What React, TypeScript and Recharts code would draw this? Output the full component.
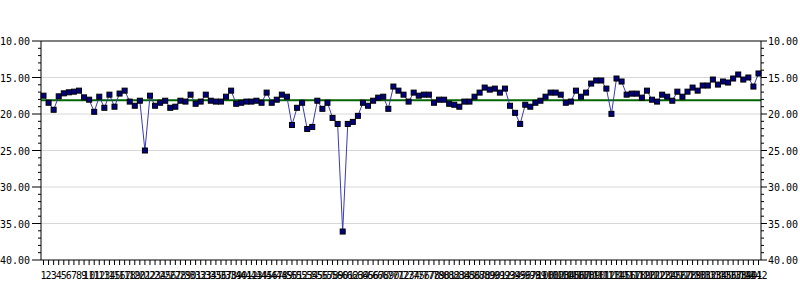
import React from 'react'
import { LineChart, Line, XAxis, YAxis, ReferenceLine } from 'recharts'

// categories 1..142
const categories = [
  '1', '2', '3', '4', '5', '6', '7', '8', '9', '10', '11', '12', '13', '14', '15', '16', '17', '18', '19', '20',
  '21', '22', '23', '24', '25', '26', '27', '28', '29', '30', '31', '32', '33', '34', '35', '36', '37', '38', '39', '40',
  '41', '42', '43', '44', '45', '46', '47', '48', '49', '50', '51', '52', '53', '54', '55', '56', '57', '58', '59', '60',
  '61', '62', '63', '64', '65', '66', '67', '68', '69', '70', '71', '72', '73', '74', '75', '76', '77', '78', '79', '80',
  '81', '82', '83', '84', '85', '86', '87', '88', '89', '90', '91', '92', '93', '94', '95', '96', '97', '98', '99', '100',
  '101', '102', '103', '104', '105', '106', '107', '108', '109', '110', '111', '112', '113', '114', '115', '116', '117', '118', '119', '120',
  '121', '122', '123', '124', '125', '126', '127', '128', '129', '130', '131', '132', '133', '134', '135', '136', '137', '138', '139', '140',
  '141', '142',
]

const values = [
  17.49, 18.46, 19.42, 17.58, 17.17, 17.03, 16.94, 16.8, 17.72, 18.04,
  19.7, 17.63, 19.15, 17.35, 19.0, 17.2, 16.8, 18.3, 18.87, 18.18,
  25.0, 17.49, 18.87, 18.46, 18.18, 19.15, 19.0, 18.18, 18.3, 17.35,
  18.6, 18.3, 17.35, 18.18, 18.3, 18.3, 17.63, 16.8, 18.6, 18.46,
  18.3, 18.3, 18.18, 18.46, 17.07, 18.46, 18.04, 17.35, 17.63, 21.5,
  19.15, 18.46, 22.05, 21.77, 18.18, 19.29, 18.46, 20.53, 21.36, 36.1,
  21.36, 21.08, 20.25, 18.46, 18.87, 18.18, 17.76, 17.63, 19.29, 16.24,
  16.8, 17.35, 18.3, 17.07, 17.49, 17.35, 17.35, 18.46, 18.04, 18.04,
  18.6, 18.73, 19.0, 18.3, 18.3, 17.63, 17.07, 16.38, 16.66, 16.52,
  17.07, 16.52, 18.87, 19.84, 21.36, 18.73, 19.0, 18.46, 18.18, 17.63,
  17.07, 17.07, 17.35, 18.46, 18.3, 16.8, 17.63, 17.07, 15.83, 15.41,
  15.41, 16.52, 19.98, 15.14, 15.55, 17.35, 17.21, 17.21, 17.76, 16.8,
  18.04, 18.3, 17.35, 17.63, 18.18, 16.94, 17.63, 16.94, 16.38, 16.8,
  16.1, 16.1, 15.28, 15.97, 15.55, 15.69, 15.14, 14.59, 15.28, 15.0,
  16.24, 14.45,
]

const average = 18.1

const yTicks = [
  10, 11, 12, 13, 14, 15, 16, 17, 18, 19, 20, 21, 22, 23, 24, 25,
  26, 27, 28, 29, 30, 31, 32, 33, 34, 35, 36, 37, 38, 39, 40,
]
const yMajor = [10, 15, 20, 25, 30, 35, 40]
const gridValues = [15, 20, 25, 30, 35]

const data = categories.map((name, i) => ({ name, value: values[i] }))

const font = 'DejaVu Sans Mono'
const plotWidth = 720 // distance from left axis to right axis

// draws the tick on the left axis and its twin on the right axis
function SideTicks(props: any) {
  const { x, y, payload } = props
  const v = Number(payload.value)
  const major = yMajor.includes(v)
  const rx = x + plotWidth
  return (
    <g>
      <line x1={x - (major ? 9 : 3)} x2={x} y1={y} y2={y} stroke="#000" />
      <line x1={rx} x2={rx + (major ? 6 : 3)} y1={y} y2={y} stroke="#000" />
      {major && (
        <text x={x - 11} y={y + 4} textAnchor="end" fontSize={10} fontFamily={font} fill="#000">
          {v.toFixed(2)}
        </text>
      )}
      {major && (
        <text x={rx + 7} y={y + 4} textAnchor="start" fontSize={10} fontFamily={font} fill="#000">
          {v.toFixed(2)}
        </text>
      )}
    </g>
  )
}

function BottomTick(props: any) {
  const { x, y, payload } = props
  return (
    <g>
      <line x1={x} x2={x} y1={y} y2={y + 5} stroke="#000" />
      <text x={x} y={y + 19} textAnchor="middle" fontSize={10} fontFamily={font} fill="#000">
        {payload.value}
      </text>
    </g>
  )
}

function SquareDot(props: any) {
  const { cx, cy, index } = props
  if (cx == null || cy == null) return <g key={index} />
  return <rect key={index} x={cx - 2.5} y={cy - 2.5} width={5} height={5} fill="#000080" stroke="#000" strokeWidth={1} />
}

export default function App() {
  return (
    <div style={{ position: 'absolute', left: 0, top: 0, width: 800, height: 300, background: '#fff' }}>
      <LineChart width={800} height={300} data={data} margin={{ top: 41, right: 0, left: 0, bottom: 0 }}>
        <XAxis
          dataKey="name"
          interval={0}
          height={40}
          padding={{ left: 2.5, right: 2.5 }}
          tickSize={0}
          tickMargin={0}
          tickLine={false}
          axisLine={{ stroke: '#000' }}
          tick={<BottomTick />}
        />
        <YAxis
          yAxisId="left"
          domain={[10, 40]}
          reversed
          ticks={yTicks}
          interval={0}
          width={41}
          tickSize={0}
          tickMargin={0}
          tickLine={false}
          axisLine={{ stroke: '#000' }}
          tick={<SideTicks />}
        />
        <YAxis
          yAxisId="right"
          orientation="right"
          domain={[10, 40]}
          reversed
          width={39}
          tick={false}
          tickLine={false}
          axisLine={{ stroke: '#000' }}
        />
        {gridValues.map((v) => (
          <ReferenceLine key={v} yAxisId="left" y={v} stroke="#d8d8d8" strokeWidth={1} />
        ))}
        <ReferenceLine yAxisId="left" y={10} stroke="#000" strokeWidth={1} />
        <ReferenceLine yAxisId="left" y={average} stroke="#006400" strokeWidth={2} />
        <Line
          yAxisId="left"
          type="linear"
          dataKey="value"
          stroke="#3a3ab4"
          strokeWidth={1}
          dot={SquareDot}
          activeDot={false}
          isAnimationActive={false}
        />
      </LineChart>
    </div>
  )
}
